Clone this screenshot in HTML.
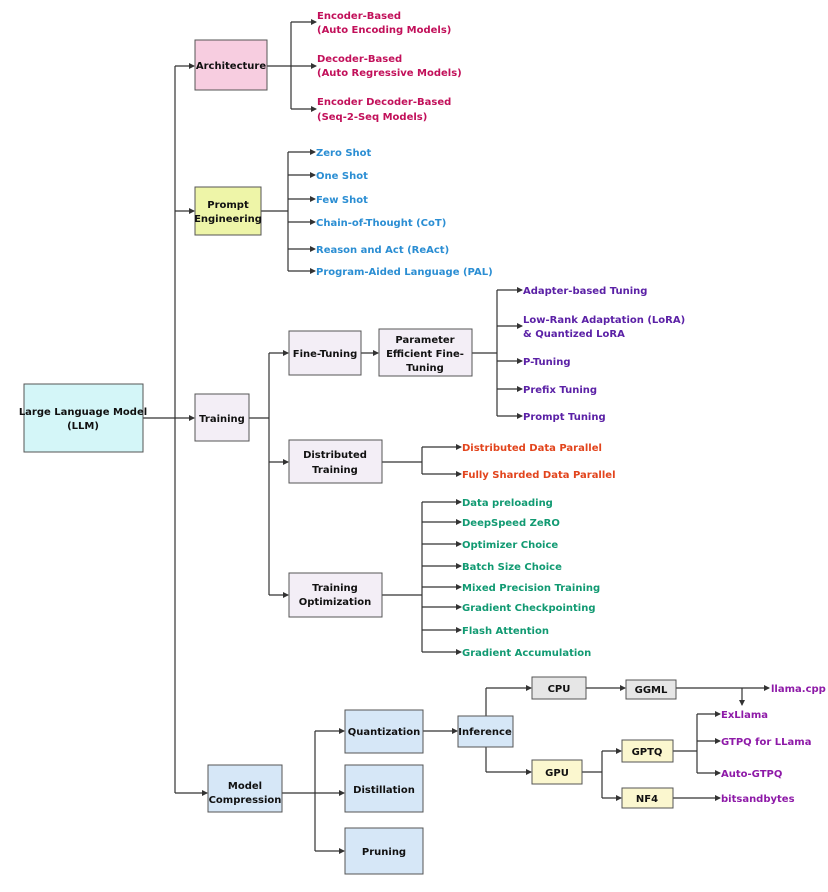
<!DOCTYPE html>
<html><head><meta charset="utf-8"><style>
html,body{margin:0;padding:0;background:#fff;}
svg text{font-family:"DejaVu Sans","Liberation Sans",sans-serif;font-weight:bold;font-size:10px;}
</style></head><body>
<svg width="828" height="887" viewBox="0 0 828 887" xmlns="http://www.w3.org/2000/svg">
<defs><marker id="a" markerWidth="6" markerHeight="6" refX="5" refY="3" orient="auto" markerUnits="userSpaceOnUse"><path d="M0,0 L6,3 L0,6 z" fill="#333"/></marker></defs>
<g stroke="#333" stroke-width="1.2" fill="none">
<!-- trunk -->
<path d="M143 418 H175 M175 66 V793"/>
<path d="M175 66 H194" marker-end="url(#a)"/><path d="M175 211 H194" marker-end="url(#a)"/><path d="M175 418 H194" marker-end="url(#a)"/><path d="M175 793 H207" marker-end="url(#a)"/>
<!-- architecture -->
<path d="M267 66 H291 M291 22 V109"/>
<path d="M291 22 H316" marker-end="url(#a)"/><path d="M291 66 H316" marker-end="url(#a)"/><path d="M291 109 H316" marker-end="url(#a)"/>
<!-- prompt -->
<path d="M261 211 H288 M288 152 V271"/>
<path d="M288 152 H315" marker-end="url(#a)"/><path d="M288 175 H315" marker-end="url(#a)"/><path d="M288 199 H315" marker-end="url(#a)"/><path d="M288 222 H315" marker-end="url(#a)"/><path d="M288 249 H315" marker-end="url(#a)"/><path d="M288 271 H315" marker-end="url(#a)"/>
<!-- training -->
<path d="M249 418 H269 M269 353 V595"/>
<path d="M269 353 H288" marker-end="url(#a)"/><path d="M269 462 H288" marker-end="url(#a)"/><path d="M269 595 H288" marker-end="url(#a)"/>
<path d="M361 353 H378" marker-end="url(#a)"/>
<path d="M472 353 H497 M497 290 V416"/>
<path d="M497 290 H522" marker-end="url(#a)"/><path d="M497 326 H522" marker-end="url(#a)"/><path d="M497 361 H522" marker-end="url(#a)"/><path d="M497 389 H522" marker-end="url(#a)"/><path d="M497 416 H522" marker-end="url(#a)"/>
<path d="M382 462 H422 M422 447 V474"/>
<path d="M422 447 H461" marker-end="url(#a)"/><path d="M422 474 H461" marker-end="url(#a)"/>
<path d="M382 595 H422 M422 502 V652"/>
<path d="M422 502 H461" marker-end="url(#a)"/><path d="M422 522 H461" marker-end="url(#a)"/><path d="M422 544 H461" marker-end="url(#a)"/><path d="M422 566 H461" marker-end="url(#a)"/><path d="M422 587 H461" marker-end="url(#a)"/><path d="M422 607 H461" marker-end="url(#a)"/><path d="M422 630 H461" marker-end="url(#a)"/><path d="M422 652 H461" marker-end="url(#a)"/>
<!-- compression -->
<path d="M282 793 H315 M315 731 V851"/>
<path d="M315 731 H344" marker-end="url(#a)"/><path d="M315 793 H344" marker-end="url(#a)"/><path d="M315 851 H344" marker-end="url(#a)"/>
<path d="M423 731 H457" marker-end="url(#a)"/>
<path d="M486 716 V688"/><path d="M486 688 H531" marker-end="url(#a)"/>
<path d="M486 747 V772"/><path d="M486 772 H531" marker-end="url(#a)"/>
<path d="M586 688 H625" marker-end="url(#a)"/>
<path d="M676 688 H769" marker-end="url(#a)"/>
<path d="M742 688 V705" marker-end="url(#a)"/>
<path d="M582 772 H602 M602 751 V798"/>
<path d="M602 751 H621" marker-end="url(#a)"/><path d="M602 798 H621" marker-end="url(#a)"/>
<path d="M673 751 H697 M697 714 V773"/>
<path d="M697 714 H720" marker-end="url(#a)"/><path d="M697 741 H720" marker-end="url(#a)"/><path d="M697 773 H720" marker-end="url(#a)"/>
<path d="M673 798 H720" marker-end="url(#a)"/>
</g>
<g stroke="#555" stroke-width="1">
<rect x="24" y="384" width="119" height="68" fill="#d4f6f8"/>
<rect x="195" y="40" width="72" height="50" fill="#f7cde0"/>
<rect x="195" y="187" width="66" height="48" fill="#eef5a8"/>
<rect x="195" y="394" width="54" height="47" fill="#f3eef6"/>
<rect x="289" y="331" width="72" height="44" fill="#f3eef6"/>
<rect x="379" y="329" width="93" height="47" fill="#f3eef6"/>
<rect x="289" y="440" width="93" height="43" fill="#f3eef6"/>
<rect x="289" y="573" width="93" height="44" fill="#f3eef6"/>
<rect x="208" y="765" width="74" height="47" fill="#d6e7f7"/>
<rect x="345" y="710" width="78" height="43" fill="#d6e7f7"/>
<rect x="345" y="765" width="78" height="47" fill="#d6e7f7"/>
<rect x="345" y="828" width="78" height="46" fill="#d6e7f7"/>
<rect x="458" y="716" width="55" height="31" fill="#d6e7f7"/>
<rect x="532" y="677" width="54" height="22" fill="#e6e6e6"/>
<rect x="626" y="680" width="50" height="19" fill="#e6e6e6"/>
<rect x="532" y="760" width="50" height="24" fill="#fbf7cf"/>
<rect x="622" y="740" width="51" height="22" fill="#fbf7cf"/>
<rect x="622" y="788" width="51" height="20" fill="#fbf7cf"/>
</g>
<g fill="#111" text-anchor="middle">
<text x="83" y="415">Large Language Model</text><text x="83" y="429">(LLM)</text>
<text x="231" y="69">Architecture</text>
<text x="228" y="208">Prompt</text><text x="228" y="222">Engineering</text>
<text x="222" y="422">Training</text>
<text x="325" y="357">Fine-Tuning</text>
<text x="425" y="343">Parameter</text><text x="425" y="357">Efficient Fine-</text><text x="425" y="371">Tuning</text>
<text x="335" y="458">Distributed</text><text x="335" y="473">Training</text>
<text x="335" y="591">Training</text><text x="335" y="605">Optimization</text>
<text x="245" y="789">Model</text><text x="245" y="803">Compression</text>
<text x="384" y="735">Quantization</text>
<text x="384" y="793">Distillation</text>
<text x="384" y="855">Pruning</text>
<text x="485" y="735">Inference</text>
<text x="559" y="692">CPU</text>
<text x="651" y="693">GGML</text>
<text x="557" y="776">GPU</text>
<text x="647" y="755">GPTQ</text>
<text x="647" y="802">NF4</text>
</g>
<g fill="#c2105a">
<text x="317" y="19">Encoder-Based</text><text x="317" y="33">(Auto Encoding Models)</text>
<text x="317" y="62">Decoder-Based</text><text x="317" y="76">(Auto Regressive Models)</text>
<text x="317" y="105">Encoder Decoder-Based</text><text x="317" y="120">(Seq-2-Seq Models)</text>
</g>
<g fill="#2b8ed3">
<text x="316" y="156">Zero Shot</text><text x="316" y="179">One Shot</text><text x="316" y="203">Few Shot</text>
<text x="316" y="226">Chain-of-Thought (CoT)</text><text x="316" y="253">Reason and Act (ReAct)</text><text x="316" y="275">Program-Aided Language (PAL)</text>
</g>
<g fill="#5b21a6">
<text x="523" y="294">Adapter-based Tuning</text>
<text x="523" y="323">Low-Rank Adaptation (LoRA)</text><text x="523" y="337">&amp; Quantized LoRA</text>
<text x="523" y="365">P-Tuning</text><text x="523" y="393">Prefix Tuning</text><text x="523" y="420">Prompt Tuning</text>
</g>
<g fill="#e2441c">
<text x="462" y="451">Distributed Data Parallel</text><text x="462" y="478">Fully Sharded Data Parallel</text>
</g>
<g fill="#119a72">
<text x="462" y="506">Data preloading</text><text x="462" y="526">DeepSpeed ZeRO</text><text x="462" y="548">Optimizer Choice</text>
<text x="462" y="570">Batch Size Choice</text><text x="462" y="591">Mixed Precision Training</text><text x="462" y="611">Gradient Checkpointing</text>
<text x="462" y="634">Flash Attention</text><text x="462" y="656">Gradient Accumulation</text>
</g>
<g fill="#8e1aa8">
<text x="771" y="692">llama.cpp</text>
<text x="721" y="718">ExLlama</text><text x="721" y="745">GTPQ for LLama</text><text x="721" y="777">Auto-GTPQ</text>
<text x="721" y="802">bitsandbytes</text>
</g>
</svg>
</body></html>
